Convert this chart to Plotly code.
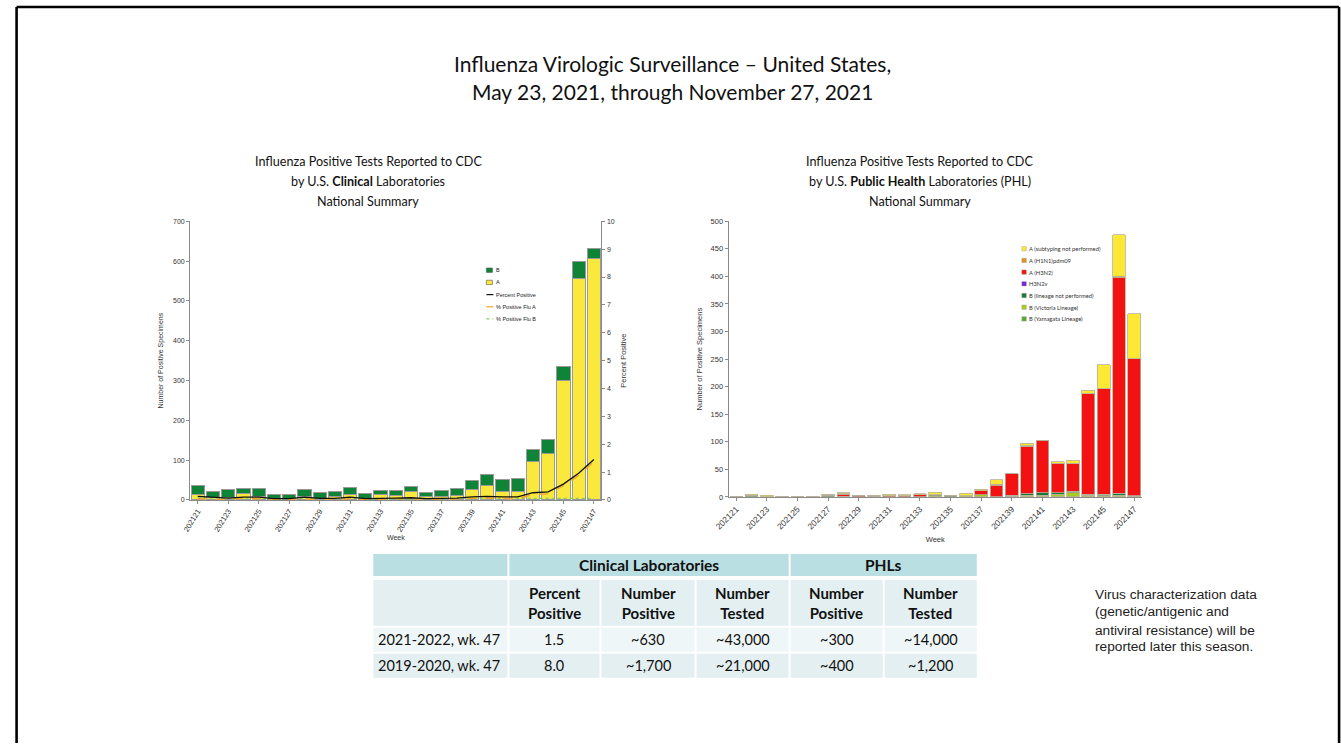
import plotly.graph_objects as go

W, H = 1341, 748

# ---------------- data ----------------
weeks = [str(w) for w in range(202121, 202148)]
tick_weeks = weeks[::2]

# Clinical laboratories (left chart)
clin_A = [14, 5, 6, 16, 10, 3, 4, 8, 4, 8, 13, 4, 14, 12, 22, 8, 9, 11, 27, 37, 21, 21, 97, 117, 301, 557, 607]
clin_B = [23, 17, 20, 13, 19, 12, 10, 19, 14, 14, 18, 13, 9, 11, 12, 12, 16, 18, 23, 28, 31, 34, 31, 36, 35, 43, 25]
pct_pos = [0.13, 0.09, 0.07, 0.1, 0.1, 0.05, 0.05, 0.1, 0.06, 0.06, 0.1, 0.05, 0.07, 0.07, 0.08, 0.05, 0.06,
           0.07, 0.11, 0.13, 0.11, 0.11, 0.26, 0.29, 0.57, 0.96, 1.45]
pct_flu_a = [0.05, 0.02, 0.02, 0.05, 0.04, 0.01, 0.02, 0.03, 0.02, 0.03, 0.04, 0.02, 0.04, 0.04, 0.05, 0.02, 0.02,
             0.03, 0.06, 0.07, 0.05, 0.04, 0.2, 0.22, 0.51, 0.88, 1.38]
pct_flu_b = [0.08, 0.06, 0.05, 0.04, 0.05, 0.03, 0.03, 0.06, 0.04, 0.04, 0.05, 0.03, 0.02, 0.03, 0.03, 0.03, 0.04,
             0.04, 0.05, 0.06, 0.06, 0.06, 0.06, 0.07, 0.07, 0.08, 0.06]

# Public health laboratories (right chart)
phl_b_yam = [0] * 27
phl_b_vic = [0, 0, 0, 0, 0, 0, 0, 0, 0, 0, 0, 0, 0, 2, 0, 2, 4, 0, 1, 3, 3, 5, 8, 3, 2, 3, 1]
phl_b_nolin = [0, 2, 0, 0, 0, 0, 2, 1, 0, 0, 0, 0, 0, 2, 3, 0, 0, 0, 2, 3, 5, 3, 2, 2, 3, 4, 1]
phl_h3n2v = [0] * 27
phl_h3n2 = [0, 0, 0, 0, 0, 0, 1, 4, 2, 1, 2, 2, 4, 0, 0, 0, 7, 21, 39, 86, 95, 53, 51, 182, 191, 391, 249]
phl_h1n1 = [0, 1, 0, 1, 0, 0, 1, 1, 0, 1, 0, 0, 0, 0, 0, 0, 0, 2, 0, 1, 0, 0, 0, 0, 0, 2, 0]
phl_a_unsub = [0, 2, 3, 0, 1, 1, 1, 2, 0, 1, 3, 2, 2, 5, 0, 5, 3, 8, 0, 4, 0, 3, 6, 7, 44, 76, 81]

# Table
group_headers = ["", "Clinical Laboratories", "PHLs"]
col_headers = ["", "Percent<br>Positive", "Number<br>Positive", "Number<br>Tested", "Number<br>Positive", "Number<br>Tested"]
row_labels = ["2021-2022, wk. 47", "2019-2020, wk. 47"]
clin_pct_col = ["1.5", "8.0"]
clin_pos_col = ["~630", "~1,700"]
clin_tested_col = ["~43,000", "~21,000"]
phl_pos_col = ["~300", "~400"]
phl_tested_col = ["~14,000", "~1,200"]

title_lines = ["Influenza Virologic Surveillance – United States,", "May 23, 2021, through November 27, 2021"]
left_sub = ["Influenza Positive Tests Reported to CDC", "by U.S. <b>Clinical</b> Laboratories", "National Summary"]
right_sub = ["Influenza Positive Tests Reported to CDC", "by U.S. <b>Public Health</b> Laboratories (PHL)", "National Summary"]
side_note = ["Virus characterization data", "(genetic/antigenic and", "antiviral resistance) will be", "reported later this season."]


# ---------------- helpers (screen pixel -> paper fraction) ----------------
OX, SX = 14.0, 0.988
OY, SY = 3.5, 0.989


def px(x):
    return min(1.0, max(0.0, ((x - OX) / SX) / W))


def py(y):
    return min(1.0, max(0.0, 1 - ((y - OY) / SY) / H))


AXF = "Liberation Sans, Arial, sans-serif"
CAL = "Lato, Open Sans, sans-serif"

fig = go.Figure()

fig.add_trace(go.Bar(x=weeks, y=clin_A, name="A", marker=dict(color="#fbe83c", line=dict(color="#9a9a9a", width=1)),
                     width=0.87, xaxis="x", yaxis="y", showlegend=False))
fig.add_trace(go.Bar(x=weeks, y=clin_B, name="B", marker=dict(color="#0f8336", line=dict(color="#9a9a9a", width=1)),
                     width=0.87, xaxis="x", yaxis="y", showlegend=False))
fig.add_trace(go.Scatter(x=weeks, y=pct_flu_b, name="% Positive Flu B", mode="lines",
                         line=dict(color="#86d06a", width=1.2, dash="dot"), xaxis="x", yaxis="y2", showlegend=False))
fig.add_trace(go.Scatter(x=weeks, y=pct_flu_a, name="% Positive Flu A", mode="lines",
                         line=dict(color="#f0a534", width=1.4, dash="dash"), xaxis="x", yaxis="y2", showlegend=False))
fig.add_trace(go.Scatter(x=weeks, y=pct_pos, name="Percent Positive", mode="lines",
                         line=dict(color="#111111", width=1.3), xaxis="x", yaxis="y2", showlegend=False))

phl_series = [
    ("B (Yamagata Lineage)", phl_b_yam, "#5aa832"),
    ("B (Victoria Lineage)", phl_b_vic, "#a8cc1c"),
    ("B (lineage not performed)", phl_b_nolin, "#137a3c"),
    ("H3N2v", phl_h3n2v, "#7a22e0"),
    ("A (H3N2)", phl_h3n2, "#f21212"),
    ("A (H1N1)pdm09", phl_h1n1, "#e8901c"),
    ("A (subtyping not performed)", phl_a_unsub, "#fde935"),
]
for name, vals, col in phl_series:
    fig.add_trace(go.Bar(x=weeks, y=vals, name=name, marker=dict(color=col, line=dict(color="#b8b09a", width=0.8)),
                         width=0.83, xaxis="x2", yaxis="y3", showlegend=False))

shapes = []
annotations = []

# ---- legends (drawn as keys beside the bars)
left_legend = [("B", "box", "#0f8336"), ("A", "box", "#fbe83c"), ("Percent Positive", "line", "#111111"),
               ("% Positive Flu A", "dash", "#f0a534"), ("% Positive Flu B", "dot", "#86d06a")]
for i, (lab, kind, col) in enumerate(left_legend):
    yc = 270 + i * 12.2
    if kind == "box":
        shapes.append(dict(type="rect", xref="paper", yref="paper", x0=px(485), x1=px(491), y0=py(yc + 2.2),
                           y1=py(yc - 2.2), fillcolor=col, line=dict(color="#555", width=0.6)))
    else:
        d = {"line": "solid", "dash": "dash", "dot": "dot"}[kind]
        shapes.append(dict(type="line", xref="paper", yref="paper", x0=px(485), x1=px(492), y0=py(yc), y1=py(yc),
                           line=dict(color=col, width=1.2, dash=d)))
    annotations.append(dict(x=px(492.5), y=py(yc), xref="paper", yref="paper", text=lab, showarrow=False,
                            xanchor="left", yanchor="middle", font=dict(family=AXF, size=5.5, color="#222")))

right_legend = list(reversed(phl_series))
for i, (lab, vals, col) in enumerate(right_legend):
    yc = 248.5 + i * 11.7
    shapes.append(dict(type="rect", xref="paper", yref="paper", x0=px(1020), x1=px(1024.5), y0=py(yc + 2.2),
                       y1=py(yc - 2.2), fillcolor=col, line=dict(color="#999", width=0.4)))
    annotations.append(dict(x=px(1025), y=py(yc), xref="paper", yref="paper", text=lab, showarrow=False,
                            xanchor="left", yanchor="middle", font=dict(family=CAL, size=5.8, color="#333")))

# ---- titles
for i, t in enumerate(title_lines):
    annotations.append(dict(x=px(671), y=py(63 + i * 28), xref="paper", yref="paper", text=t, showarrow=False,
                            xanchor="center", yanchor="middle", font=dict(family=CAL, size=21, color="#111")))
for i, t in enumerate(left_sub):
    annotations.append(dict(x=px(367), y=py(161 + i * 20), xref="paper", yref="paper", text=t, showarrow=False,
                            xanchor="center", yanchor="middle", font=dict(family=CAL, size=12.6, color="#111")))
for i, t in enumerate(right_sub):
    annotations.append(dict(x=px(918), y=py(161 + i * 20), xref="paper", yref="paper", text=t, showarrow=False,
                            xanchor="center", yanchor="middle", font=dict(family=CAL, size=12.6, color="#111")))

# ---- side note
for t, yc in zip(side_note, [595, 612, 631, 647]):
    annotations.append(dict(x=px(1091), y=py(yc), xref="paper", yref="paper", text=t, showarrow=False,
                            xanchor="left", yanchor="middle", font=dict(family=AXF, size=13.7, color="#222")))

# ---- summary table
col_edges = [(372, 506), (508, 598), (600, 693), (695, 787), (789, 881), (883, 975)]
row_edges = [(554, 576), (580, 626), (628, 652), (654, 678)]
hdr_col = "#b9dfe3"
sub_col = "#e3eff1"
row_cols = ["#eff6f7", "#e3eff1"]
TF = CAL

group_spans = [(372, 506), (508, 787), (789, 975)]
for (x0, x1), txt in zip(group_spans, group_headers):
    y0, y1 = row_edges[0]
    shapes.append(dict(type="rect", xref="paper", yref="paper", x0=px(x0), x1=px(x1), y0=py(y1), y1=py(y0),
                       fillcolor=hdr_col, line=dict(width=0)))
    if txt:
        annotations.append(dict(x=px((x0 + x1) / 2), y=py((y0 + y1) / 2), xref="paper", yref="paper",
                                text="<b>" + txt + "</b>", showarrow=False, xanchor="center", yanchor="middle",
                                font=dict(family=TF, size=15.5, color="#111")))
for (x0, x1), txt in zip(col_edges, col_headers):
    y0, y1 = row_edges[1]
    shapes.append(dict(type="rect", xref="paper", yref="paper", x0=px(x0), x1=px(x1), y0=py(y1), y1=py(y0),
                       fillcolor=sub_col, line=dict(width=0)))
    if txt:
        annotations.append(dict(x=px((x0 + x1) / 2), y=py((y0 + y1) / 2), xref="paper", yref="paper",
                                text="<b>" + txt.replace("<br>", "</b><br><b>") + "</b>", showarrow=False,
                                xanchor="center", yanchor="middle",
                                font=dict(family=TF, size=15, color="#111")))
body_cols = [row_labels, clin_pct_col, clin_pos_col, clin_tested_col, phl_pos_col, phl_tested_col]
for r in range(len(row_labels)):
    y0, y1 = row_edges[2 + r]
    for c, (x0, x1) in enumerate(col_edges):
        shapes.append(dict(type="rect", xref="paper", yref="paper", x0=px(x0), x1=px(x1), y0=py(y1), y1=py(y0),
                           fillcolor=row_cols[r], line=dict(width=0)))
        if c == 0:
            annotations.append(dict(x=px(x0 + 3), y=py((y0 + y1) / 2), xref="paper", yref="paper",
                                    text=body_cols[c][r], showarrow=False, xanchor="left", yanchor="middle",
                                    font=dict(family=TF, size=14.5, color="#111")))
        else:
            annotations.append(dict(x=px((x0 + x1) / 2), y=py((y0 + y1) / 2), xref="paper", yref="paper",
                                    text=body_cols[c][r], showarrow=False, xanchor="center", yanchor="middle",
                                    font=dict(family=TF, size=14.5, color="#111")))

# ---- page frame (left, top, right edges)
fx0, fx1, fy0 = max(px(6), 0.0012), px(1337), py(6.5)
for (ax0, ay0, ax1, ay1) in [(fx0, 0, fx0, fy0), (fx0, fy0, fx1, fy0), (fx1, fy0, fx1, 0)]:
    shapes.append(dict(type="line", xref="paper", yref="paper", x0=ax0, y0=ay0, x1=ax1, y1=ay1,
                       line=dict(color="#000", width=2.6), layer="above"))

axis_common = dict(showgrid=False, zeroline=False, showline=True, linecolor="#8a8a8a", linewidth=1,
                   ticks="outside", ticklen=3, tickcolor="#8a8a8a",
                   tickfont=dict(family=AXF, size=7, color="#333"))

fig.update_layout(
    width=W, height=H, autosize=False,
    margin=dict(l=0, r=0, t=0, b=0),
    paper_bgcolor="white", plot_bgcolor="rgba(0,0,0,0)",
    barmode="stack", showlegend=False,
    xaxis=dict(domain=[px(189), px(600)], anchor="y", type="category", range=[-0.5, 26.5],
               tickmode="array", tickvals=tick_weeks, ticktext=tick_weeks, tickangle=-58,
               title=dict(text="Week", font=dict(family=AXF, size=7, color="#333"), standoff=2),
               **{**axis_common, "tickfont": dict(family=AXF, size=7.5, color="#333")}),
    yaxis=dict(domain=[py(500), py(221)], anchor="x", range=[0, 700], dtick=100,
               title=dict(text="Number of Positive Specimens", font=dict(family=AXF, size=7, color="#333"),
                          standoff=8),
               **axis_common),
    yaxis2=dict(overlaying="y", side="right", anchor="x", range=[0, 10], dtick=1,
                title=dict(text="Percent Positive", font=dict(family=AXF, size=7.5, color="#333"), standoff=6),
                **axis_common),
    xaxis2=dict(domain=[px(727), px(1140)], anchor="y3", type="category", range=[-0.5, 26.5],
                tickmode="array", tickvals=tick_weeks, ticktext=tick_weeks, tickangle=-45,
                title=dict(text="Week", font=dict(family=AXF, size=7.5, color="#333"), standoff=6),
                **{**axis_common, "tickfont": dict(family=AXF, size=8.5, color="#333")}),
    yaxis3=dict(domain=[py(497), py(221)], anchor="x2", range=[0, 500], dtick=50,
                title=dict(text="Number of Positive Specimens", font=dict(family=AXF, size=7.5, color="#333"),
                           standoff=6),
                **{**axis_common, "tickfont": dict(family=AXF, size=7.5, color="#333")}),
    shapes=shapes,
    annotations=annotations,
)

fig.write_html("out.html", config={"displayModeBar": False},
               post_script="document.body.style.margin='0';document.body.style.overflow='hidden';")
